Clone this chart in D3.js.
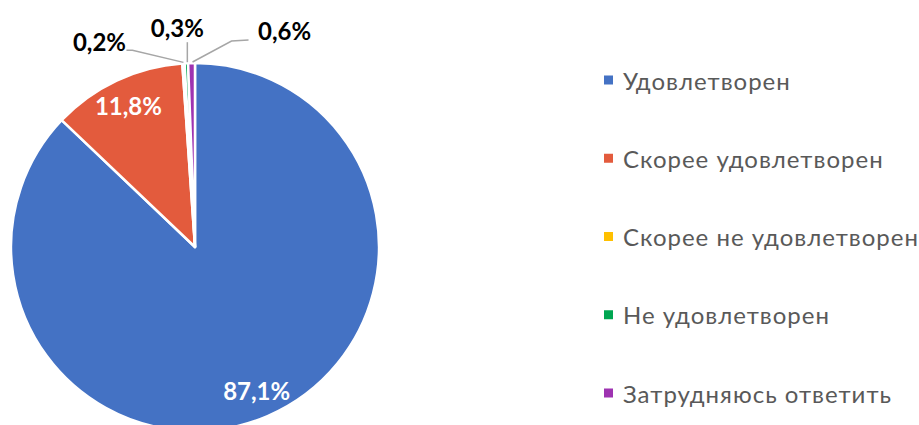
<!DOCTYPE html>
<html>
<head>
<meta charset="utf-8">
<script src="https://cdn.jsdelivr.net/npm/d3@7"></script>
<style>
  body { margin: 0; background: #fff; }
  svg { display: block; font-family: Lato, "Open Sans", sans-serif; }
</style>
</head>
<body>
<div id="chart"></div>
<script>
// survey answers and shares (%)
const categories = ["Удовлетворен", "Скорее удовлетворен", "Скорее не удовлетворен", "Не удовлетворен", "Затрудняюсь ответить"];
const values = [87.1, 11.8, 0.2, 0.3, 0.6];
const labels = ["87,1%", "11,8%", "0,2%", "0,3%", "0,6%"];
const colors = ["#4472C4", "#E35B3D", "#FFC000", "#00A651", "#9E33B1"];

const width = 919, height = 425;
const cx = 195, cy = 247, radius = 184;

let svg = d3.select("#chart")
    .append("svg")
    .attr("width", width)
    .attr("height", height);

let pie = d3.pie().sort(null).value(d => d);
let arcs = pie(values);

let arc = d3.arc().innerRadius(0).outerRadius(radius);
let labelArc = d3.arc().innerRadius(radius * 0.85).outerRadius(radius * 0.85);
let edgeArc = d3.arc().innerRadius(radius).outerRadius(radius);

let g = svg.append("g").attr("transform", `translate(${cx},${cy})`);

// slices
g.selectAll("path.slice")
    .data(arcs)
    .enter()
    .append("path")
    .attr("class", "slice")
    .attr("d", arc)
    .attr("fill", (d, i) => colors[i])
    .attr("stroke", "#fff")
    .attr("stroke-width", 2.5)
    .attr("stroke-linejoin", "round");

// big slices get labels inside
arcs.filter(d => d.value > 5).forEach(d => {
    let [x, y] = labelArc.centroid(d);
    g.append("text")
        .attr("x", x)
        .attr("y", y)
        .attr("text-anchor", "middle")
        .attr("dominant-baseline", "central")
        .attr("font-size", "24px")
        .attr("font-weight", "bold")
        .attr("fill", "#fff")
        .text(labels[d.index]);
});

// small slices: labels pulled out above the pie, offsets from the slice edge
const smallOffsets = { 2: [-84, -22], 3: [-9, -36], 4: [93, -33] };
arcs.filter(d => d.value <= 5).forEach(d => {
    let [ex, ey] = edgeArc.centroid(d);
    let [ox, oy] = smallOffsets[d.index];
    let lx = ex + ox, ly = ey + oy;

    let pts;
    if (ox < -30) {
        pts = [[ex, ey - 1], [lx + 33, ly + 9], [lx + 27, ly + 9]];
    } else if (ox > 30) {
        pts = [[ex + 1, ey - 1], [ex + 40, ly + 11], [lx - 36, ly + 10]];
    } else {
        pts = [[ex + 1, ey - 1], [ex + 1, ly + 15]];
    }
    g.append("path")
        .attr("d", d3.line()(pts))
        .attr("fill", "none")
        .attr("stroke", "#A6A6A6")
        .attr("stroke-width", 1.5);

    g.append("text")
        .attr("x", lx)
        .attr("y", ly)
        .attr("text-anchor", "middle")
        .attr("dominant-baseline", "central")
        .attr("font-size", "24px")
        .attr("font-weight", "bold")
        .attr("fill", "#000")
        .text(labels[d.index]);
});

// legend
let legendY = d3.scalePoint()
    .domain(categories)
    .range([80, 393]);

let legend = svg.append("g");
legend.selectAll("rect")
    .data(categories)
    .enter()
    .append("rect")
    .attr("x", 604)
    .attr("y", d => legendY(d) - 4.5)
    .attr("width", 9)
    .attr("height", 9)
    .attr("fill", (d, i) => colors[i]);

legend.selectAll("text")
    .data(categories)
    .enter()
    .append("text")
    .attr("x", 623)
    .attr("y", d => legendY(d))
    .attr("dominant-baseline", "central")
    .attr("font-size", "24px")
    .attr("letter-spacing", "1px")
    .attr("fill", "#595959")
    .text(d => d);
</script>
</body>
</html>
